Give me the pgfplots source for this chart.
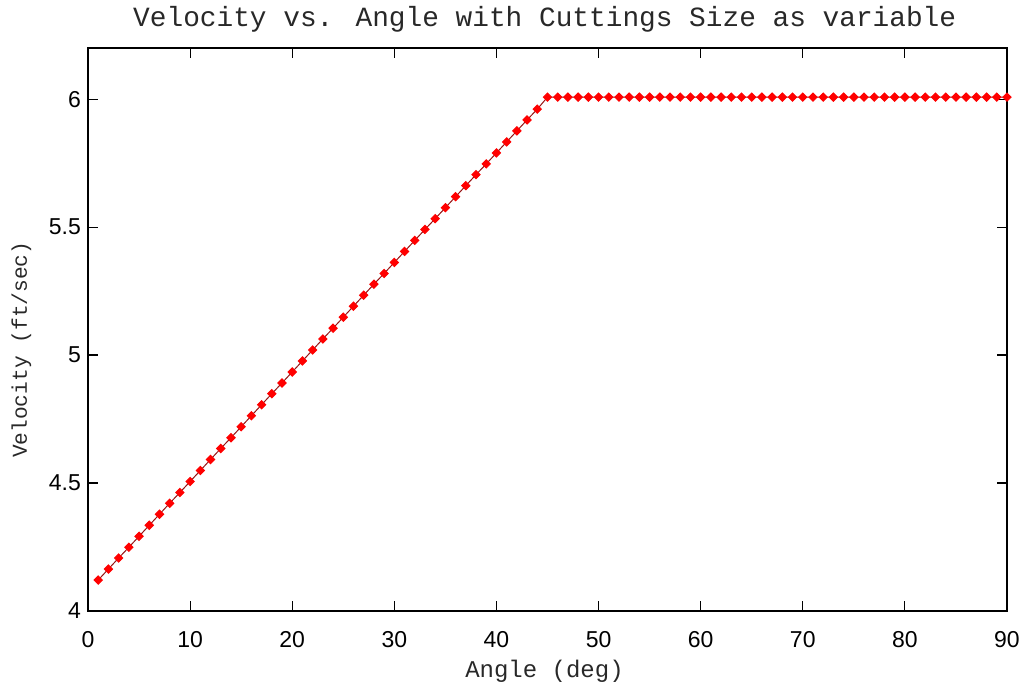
\documentclass[border=0pt]{standalone}
\usepackage{fontspec}
\setmainfont{Liberation Sans}
\newfontfamily\monofont{Liberation Mono}
\usepackage{pgfplots}
\pgfplotsset{compat=1.18}
\definecolor{mred}{RGB}{255,0,0}
\definecolor{mline}{RGB}{150,20,20}
\definecolor{labelgray}{RGB}{40,40,40}
\begin{document}
\begin{tikzpicture}
\path[use as bounding box] (-44pt,-39pt) rectangle (467pt,305.5pt);
\begin{axis}[
  scale only axis,
  width=459.5pt, height=281.5pt,
  at={(0,0)}, anchor=south west,
  xmin=0, xmax=90, ymin=4, ymax=6.2,
  xtick={0,10,...,90},
  ytick={4,4.5,5,5.5,6},
  tick align=inside,
  major tick length=5pt,
  minor tick num=0,
  axis line style={line width=0.8pt},
  every tick/.style={black, line width=0.6pt},
  clip=false,
  every axis title shift=0pt,
  /pgf/number format/assume math mode=true,
  ticklabel style={font=\fontsize{11.5}{13}\selectfont},
  xticklabel style={anchor=base, yshift=-18.5pt},
  title={\monofont Velocity vs. Angle with Cuttings Size as variable},
  title style={at={(axis description cs:0.497,1.039)}, anchor=base, text=labelgray, font=\fontsize{13.9}{16}\selectfont},
  xlabel={\monofont Angle (deg)},
  xlabel style={at={(axis description cs:0.4967,-0.119)}, anchor=base, text=labelgray, font=\fontsize{12}{14}\selectfont},
  ylabel={\monofont Velocity (ft/sec)},
  ylabel style={at={(axis description cs:-0.0664,0.464)}, anchor=base, text=labelgray, font=\fontsize{10.6}{12}\selectfont},
]
\addplot[color=mline, line width=0.5pt, mark=square*, mark size=1.45pt,
  mark options={rotate=45, fill=mred, draw=mred, solid}] coordinates {
(1,4.121) (2,4.164) (3,4.207) (4,4.249) (5,4.292) (6,4.335) (7,4.378) (8,4.421)
(9,4.463) (10,4.506) (11,4.549) (12,4.592) (13,4.635) (14,4.677) (15,4.720)
(16,4.763) (17,4.806) (18,4.849) (19,4.891) (20,4.934) (21,4.977) (22,5.020)
(23,5.063) (24,5.105) (25,5.148) (26,5.191) (27,5.234) (28,5.277) (29,5.319)
(30,5.362) (31,5.405) (32,5.448) (33,5.491) (34,5.533) (35,5.576) (36,5.619)
(37,5.662) (38,5.705) (39,5.747) (40,5.790) (41,5.833) (42,5.876) (43,5.919)
(44,5.961) (45,6.008) (46,6.008) (47,6.008) (48,6.008) (49,6.008) (50,6.008)
(51,6.008) (52,6.008) (53,6.008) (54,6.008) (55,6.008) (56,6.008) (57,6.008)
(58,6.008) (59,6.008) (60,6.008) (61,6.008) (62,6.008) (63,6.008) (64,6.008)
(65,6.008) (66,6.008) (67,6.008) (68,6.008) (69,6.008) (70,6.008) (71,6.008)
(72,6.008) (73,6.008) (74,6.008) (75,6.008) (76,6.008) (77,6.008) (78,6.008)
(79,6.008) (80,6.008) (81,6.008) (82,6.008) (83,6.008) (84,6.008) (85,6.008)
(86,6.008) (87,6.008) (88,6.008) (89,6.008) (90,6.008)
};
\end{axis}
\end{tikzpicture}
\end{document}
